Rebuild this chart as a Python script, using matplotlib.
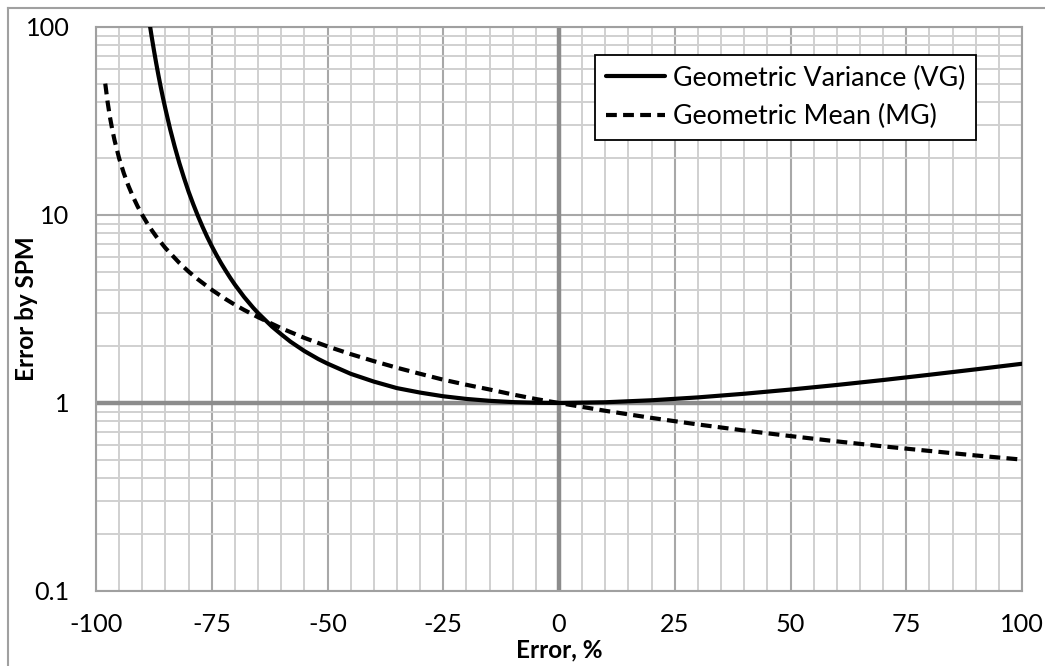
import matplotlib
matplotlib.use("Agg")
import matplotlib.pyplot as plt
from matplotlib.lines import Line2D
from matplotlib.ticker import FixedLocator, NullFormatter

plt.rcParams['font.family'] = ['Lato', 'DejaVu Sans']

# Data
vg_x = [-89, -88.5, -88, -87.5, -87, -86.5, -86, -85.5, -85, -84, -83, -82, -81, -80, -79,
        -78, -77, -76, -75, -74, -73, -72, -71, -70, -68, -66, -65, -62, -60, -58, -55,
        -52, -50, -45, -40, -35, -30, -25, -20, -15, -10, -5, 0, 10, 20, 30, 40, 50,
        60, 70, 80, 90, 100]
vg_y = [130.6, 107.5, 89.6, 75.5, 64.2, 55.1, 47.7, 41.6, 36.6, 28.7, 23.1, 18.9, 15.77,
        13.3, 11.42, 9.90, 8.67, 7.66, 6.83, 6.14, 5.55, 5.06, 4.63, 4.26, 3.66, 3.20,
        3.01, 2.55, 2.32, 2.12, 1.89, 1.714, 1.62, 1.43, 1.30, 1.20, 1.136, 1.086, 1.051,
        1.027, 1.011, 1.003, 1.0, 1.009, 1.034, 1.071, 1.120, 1.179, 1.247, 1.325, 1.413,
        1.510, 1.617]

mg_x = [-98, -97.5, -97, -96.5, -96, -95, -94, -93, -92, -91, -90, -89, -88, -87, -85,
        -82, -80, -78, -75, -72, -70, -68, -65, -60, -55, -50, -45, -40, -35, -30, -25,
        -20, -15, -10, -5, 0, 10, 20, 30, 40, 50, 60, 70, 80, 90, 100]
mg_y = [50, 40, 33.3, 28.6, 25, 20, 16.7, 14.3, 12.5, 11.1, 10, 9.09, 8.33, 7.69, 6.67,
        5.56, 5, 4.55, 4, 3.57, 3.33, 3.125, 2.86, 2.5, 2.22, 2, 1.82, 1.67, 1.54, 1.43,
        1.33, 1.25, 1.18, 1.11, 1.05, 1.0, 0.909, 0.833, 0.769, 0.714, 0.667, 0.625,
        0.588, 0.556, 0.526, 0.5]

x_ticks = [-100, -75, -50, -25, 0, 25, 50, 75, 100]
y_ticks = [0.1, 1, 10, 100]
y_tick_labels = ['0.1', '1', '10', '100']
series_names = ['Geometric Variance (VG)', 'Geometric Mean (MG)']

W, H = 1045, 666
fig = plt.figure(figsize=(W / 100, H / 100), dpi=100)
L, R, T, B = 96, 1022, 27, 591
ax = fig.add_axes([L / W, 1 - B / H, (R - L) / W, (B - T) / H])

ax.set_yscale('log')
ax.set_xlim(-100, 100)
ax.set_ylim(0.1, 100)

# grids
minor_x = [v for v in range(-100, 101, 5) if v % 25 != 0]
ax.xaxis.set_minor_locator(FixedLocator(minor_x))
minor_y = [m * 10.0 ** e for e in (-1, 0, 1) for m in range(2, 10)]
ax.yaxis.set_minor_locator(FixedLocator(minor_y))
ax.yaxis.set_minor_formatter(NullFormatter())
ax.grid(True, which='minor', color='#d0d0d0', linewidth=1.4, zorder=0)
ax.grid(True, which='major', color='#a8a8a8', linewidth=1.5, zorder=0)
ax.set_axisbelow(True)

ax.set_xticks(x_ticks)
ax.set_xticklabels([str(v) for v in x_ticks])
ax.set_yticks(y_ticks)
ax.set_yticklabels(y_tick_labels)
ax.tick_params(which='both', length=0)
ax.tick_params(axis='x', pad=16, labelsize=18.2)
ax.tick_params(axis='y', pad=19, labelsize=18.2)

for s in ax.spines.values():
    s.set_color('#a0a0a0')
    s.set_linewidth(1.5)

# zero axes
ax.axvline(0, color='#8c8c8c', linewidth=3.2, zorder=1)
ax.axhline(1, color='#8c8c8c', linewidth=3.2, zorder=1)

ax.plot(vg_x, vg_y, color='black', linewidth=3.0, solid_capstyle='round',
        solid_joinstyle='round', label=series_names[0], zorder=3)
ax.plot(mg_x, mg_y, color='black', linewidth=3.0, linestyle=(0, (2.6, 1.5)),
        label=series_names[1], zorder=3)

leg = ax.legend(loc='upper left', bbox_to_anchor=((595 - L) / (R - L), 1 - (55 - T) / (B - T)),
                fontsize=19.3, frameon=True, fancybox=False, framealpha=1,
                edgecolor='black', borderpad=0.4, handlelength=2.2, handletextpad=0.3,
                labelspacing=0.5, borderaxespad=0)
leg.get_frame().set_linewidth(1.3)

ax.set_xlabel('Error, %', fontsize=17.5, fontweight='bold')
ax.xaxis.set_label_coords(0.5, (B - 650) / (B - T))
ax.xaxis.label.set_va('center')
ax.set_ylabel('Error by SPM', fontsize=17.5, fontweight='bold')
ax.yaxis.set_label_coords((27 - L) / (R - L), 0.5)
ax.yaxis.label.set_va('center')

# outer frame (partially visible)
fig.add_artist(Line2D([8 / W, 1], [1 - 8 / H, 1 - 8 / H], transform=fig.transFigure,
                      color='#a0a0a0', linewidth=1.5))
fig.add_artist(Line2D([8 / W, 8 / W], [1 - 8 / H, 0], transform=fig.transFigure,
                      color='#a0a0a0', linewidth=1.5))

fig.savefig('out.png', dpi=100)
